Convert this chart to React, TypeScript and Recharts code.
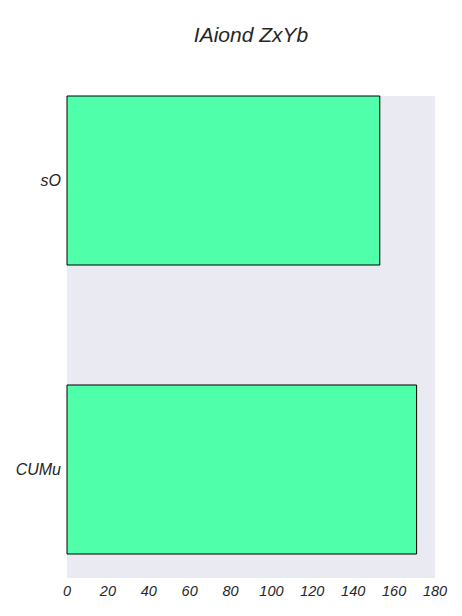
import { BarChart, Bar, XAxis, YAxis, CartesianGrid } from "recharts"

const categories = ["sO", "CUMu"]
const values = [153, 171]
const xTicks = [0, 20, 40, 60, 80, 100, 120, 140, 160, 180]

const data = categories.map((name, i) => ({ name, value: values[i] }))

const font = "'Liberation Sans', Arial, sans-serif"

const App = () => {
  return (
    <div style={{ position: "absolute", left: 0, top: 0, width: 462, height: 616, background: "#fff" }}>
      <div
        style={{
          position: "absolute",
          left: 67,
          width: 368,
          top: 22,
          textAlign: "center",
          fontFamily: font,
          fontStyle: "italic",
          fontSize: 21,
          lineHeight: "26px",
          color: "#262626",
        }}
      >
        IAiond ZxYb
      </div>
      <BarChart
        width={462}
        height={616}
        data={data}
        layout="vertical"
        margin={{ top: 96, right: 27, bottom: 0, left: 0 }}
      >
        <CartesianGrid fill="#EAEAF2" stroke="none" />
        <XAxis
          type="number"
          domain={[0, 180]}
          ticks={xTicks}
          height={38}
          axisLine={false}
          tickLine={false}
          tick={{ fill: "#262626", fontSize: 14.5, fontStyle: "italic", fontFamily: font }}
        />
        <YAxis
          type="category"
          dataKey="name"
          width={67}
          padding={{ top: -60, bottom: -36 }}
          axisLine={false}
          tickLine={false}
          tickMargin={0}
          tick={{ fill: "#262626", fontSize: 16, fontStyle: "italic", fontFamily: font }}
        />
        <Bar dataKey="value" fill="#50FFAA" stroke="#000" strokeWidth={1} barSize={169} isAnimationActive={false} />
      </BarChart>
    </div>
  )
}

export default App
